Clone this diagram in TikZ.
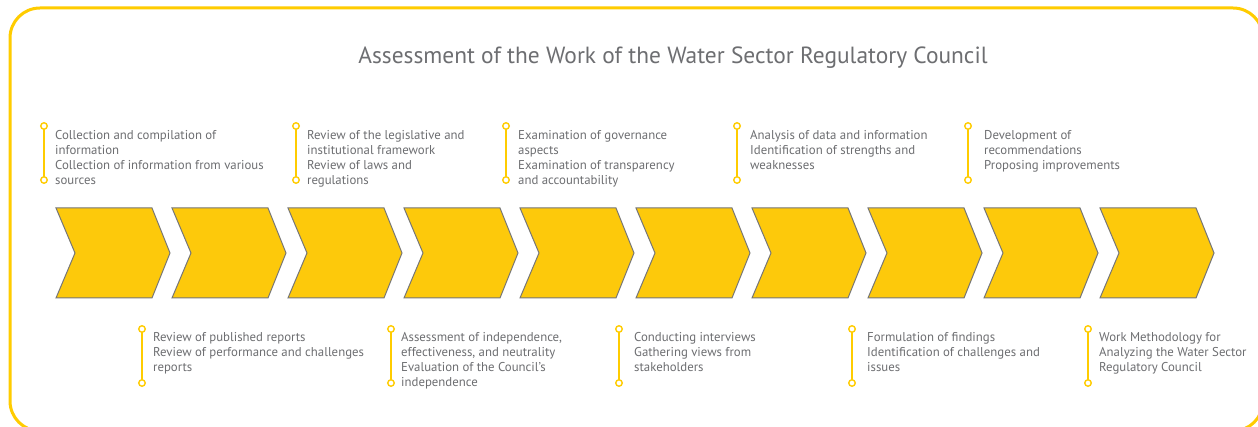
\documentclass[tikz,border=0pt]{standalone}
\usepackage{fontspec}
\setmainfont{PT Sans}
\definecolor{frameyellow}{RGB}{255,204,0}
\definecolor{chevfill}{RGB}{253,201,11}
\definecolor{chevline}{RGB}{118,118,118}
\definecolor{textgray}{RGB}{109,110,113}
\begin{document}
\begin{tikzpicture}[x=1pt,y=-1pt,
  frame/.style={draw=frameyellow,line width=3pt,rounded corners=30pt},
  chevron/.style={fill=chevfill,draw=chevline,line width=1pt,line join=miter},
  steptext/.style={anchor=base west,inner sep=0pt,align=left,text=textgray,
    font=\fontsize{12.8}{15}\selectfont},
  titletext/.style={anchor=base,inner sep=0pt,text=textgray,
    font=\fontsize{23.4}{27}\selectfont},
  bar/.style={draw=frameyellow,line width=1.4pt},
  dot/.style={circle,draw=frameyellow,fill=white,line width=1.4pt,minimum size=6.5pt,inner sep=0pt}]
\useasboundingbox (0,0) rectangle (1258,427);
\fill[white] (0,0) rectangle (1258,427);

% outer rounded frame (runs past the right and bottom edges)
\draw[frame] (10,8) rectangle (1263,431);

% title
\node[titletext] (title) at (673,64) {Assessment of the Work of the Water Sector Regulatory Council};

% row of ten chevrons
\foreach \i in {0,...,9}{
  \pgfmathsetmacro{\xo}{56+116*\i}
  \draw[chevron] (\xo,208) -- (\xo+96,208) -- (\xo+114,253) -- (\xo+96,298)
    -- (\xo,298) -- (\xo+19,253) -- cycle;
}

% labels above the chevrons: bar x, text x, baseline of the last line, name, text
\foreach \bx/\tx/\by/\nm/\txt in {
  44/55/185/ta/{Collection and compilation of\\information\\Collection of information from various\\sources},
  296/307/185/tb/{Review of the legislative and\\institutional framework\\Review of laws and\\regulations},
  506/518/185/tc/{Examination of governance\\aspects\\Examination of transparency\\and accountability},
  737/750/170/td/{Analysis of data and information\\Identification of strengths and\\weaknesses},
  968/984/170/te/{Development of\\recommendations\\Proposing improvements}}{
  \coordinate (\nm-top) at (\bx,126);
  \coordinate (\nm-bot) at (\bx,180);
  \draw[bar] (\nm-top) -- (\nm-bot);
  \node[dot] (\nm-d1) at (\nm-top) {};
  \node[dot] (\nm-d2) at (\nm-bot) {};
  \node[steptext] (\nm) at (\tx,\by) {\txt};
}

% labels below the chevrons
\foreach \bx/\tx/\by/\nm/\txt in {
  142/153/372/ba/{Review of published reports\\Review of performance and challenges\\reports},
  391/401/387/bb/{Assessment of independence,\\effectiveness, and neutrality\\Evaluation of the Council's\\independence},
  619/634/372/bc/{Conducting interviews\\Gathering views from\\stakeholders},
  852/867/372/bd/{Formulation of findings\\Identification of challenges and\\issues},
  1088/1099/372/be/{Work Methodology for\\Analyzing the Water Sector\\Regulatory Council}}{
  \coordinate (\nm-top) at (\bx,329);
  \coordinate (\nm-bot) at (\bx,383);
  \draw[bar] (\nm-top) -- (\nm-bot);
  \node[dot] (\nm-d1) at (\nm-top) {};
  \node[dot] (\nm-d2) at (\nm-bot) {};
  \node[steptext] (\nm) at (\tx,\by) {\txt};
}
\end{tikzpicture}
\end{document}
